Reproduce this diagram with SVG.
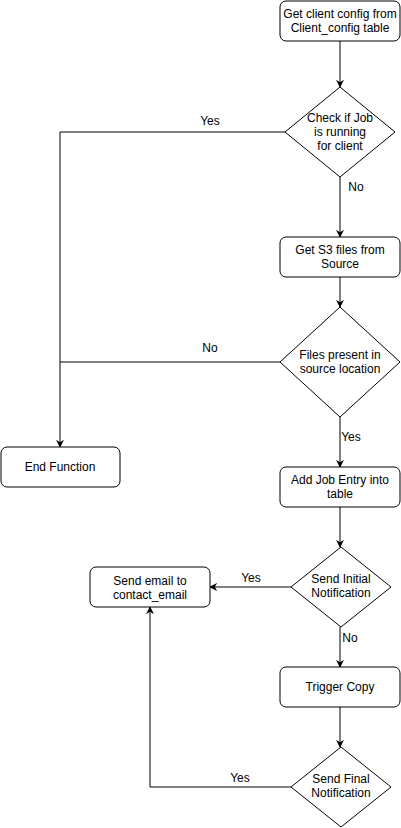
<svg xmlns="http://www.w3.org/2000/svg" width="401" height="828" viewBox="0 0 401 828">
<style>
.n{fill:#fff;stroke:#000;stroke-width:1}
.t{font-family:"Liberation Sans",Arial,sans-serif;font-size:12px;fill:#000;text-anchor:middle}
.c{fill:none;stroke:#000;stroke-width:1}
</style>
<defs>
<marker id="a" viewBox="0 0 10 10" refX="9" refY="5" markerWidth="8" markerHeight="8" markerUnits="userSpaceOnUse" orient="auto">
<path d="M0,0 L10,5 L0,10 L3,5 Z" fill="#000"/>
</marker>
</defs>
<rect width="401" height="828" fill="#fff"/>
<g id="connectors">
<path class="c" d="M340,41 V87" marker-end="url(#a)"/>
<path class="c" d="M285,132 H60 V447" marker-end="url(#a)"/>
<path class="c" d="M340,177 V237" marker-end="url(#a)"/>
<path class="c" d="M340,277 V307" marker-end="url(#a)"/>
<path class="c" d="M280,362 H60"/>
<path class="c" d="M340,417 V467" marker-end="url(#a)"/>
<path class="c" d="M340,507 V547" marker-end="url(#a)"/>
<path class="c" d="M291,587 H210" marker-end="url(#a)"/>
<path class="c" d="M340,627 V667" marker-end="url(#a)"/>
<path class="c" d="M340,707 V747" marker-end="url(#a)"/>
<path class="c" d="M291,787 H150 V607" marker-end="url(#a)"/>
<text class="t" x="210" y="125">Yes</text>
<text class="t" x="356" y="191">No</text>
<text class="t" x="210" y="352">No</text>
<text class="t" x="351" y="441">Yes</text>
<text class="t" x="251" y="582">Yes</text>
<text class="t" x="350" y="642">No</text>
<text class="t" x="240" y="782">Yes</text>
</g>
<g id="n1"><rect class="n" x="280" y="1" width="120" height="40" rx="6"/><text class="t" x="340" y="18">Get client config from</text><text class="t" x="340" y="32">Client_config table</text></g>
<g id="n2"><path class="n" d="M340,87 L395,132 L340,177 L285,132 Z"/><text class="t" x="340" y="122">Check if Job</text><text class="t" x="340" y="136">is running</text><text class="t" x="340" y="150">for client</text></g>
<g id="n3"><rect class="n" x="280" y="237" width="120" height="40" rx="6"/><text class="t" x="340" y="254">Get S3 files from</text><text class="t" x="340" y="268">Source</text></g>
<g id="n4"><path class="n" d="M340,307 L400,362 L340,417 L280,362 Z"/><text class="t" x="340" y="359">Files present in</text><text class="t" x="340" y="373">source location</text></g>
<g id="n5"><rect class="n" x="1" y="447" width="119" height="40" rx="6"/><text class="t" x="60" y="471">End Function</text></g>
<g id="n6"><rect class="n" x="280" y="467" width="120" height="40" rx="6"/><text class="t" x="340" y="484">Add Job Entry into</text><text class="t" x="340" y="498">table</text></g>
<g id="n7"><path class="n" d="M341,547 L391,587 L341,627 L291,587 Z"/><text class="t" x="341" y="583">Send Initial</text><text class="t" x="341" y="597">Notification</text></g>
<g id="n8"><rect class="n" x="90" y="567" width="120" height="40" rx="6"/><text class="t" x="150" y="585">Send email to</text><text class="t" x="150" y="599">contact_email</text></g>
<g id="n9"><rect class="n" x="280" y="667" width="120" height="40" rx="6"/><text class="t" x="340" y="691">Trigger Copy</text></g>
<g id="n10"><path class="n" d="M341,747 L391,787 L341,827 L291,787 Z"/><text class="t" x="341" y="783">Send Final</text><text class="t" x="341" y="797">Notification</text></g>
</svg>
